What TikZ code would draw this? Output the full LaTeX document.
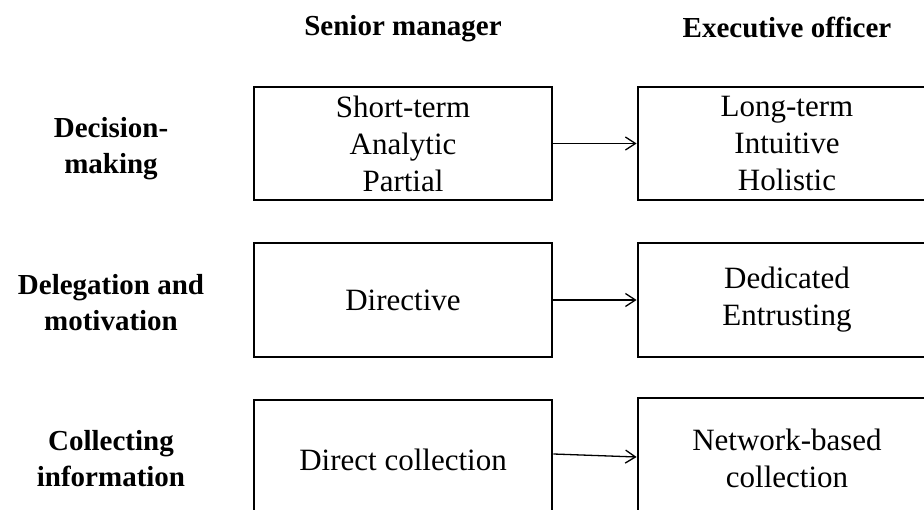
\documentclass[tikz,border=0pt]{standalone}
\usepackage{fontspec}
\setmainfont{Liberation Serif}
\usetikzlibrary{arrows.meta}
\begin{document}
\begin{tikzpicture}[x=1pt,y=-1pt,
  boxnode/.style={draw,line width=2.8pt,minimum width=298pt,minimum height=113pt,
    align=center,inner sep=0pt,font=\fontsize{31}{37}\selectfont},
  rowlabel/.style={align=center,font=\bfseries\fontsize{29}{36}\selectfont},
  colhead/.style={font=\bfseries\fontsize{29}{36}\selectfont},
  conn/.style={line width=1.3pt,-{Straight Barb[length=10pt,width=13pt,line width=1.3pt]}}]
\useasboundingbox (0,0) rectangle (924,510);
\clip (0,0) rectangle (924,510);
% column headers
\node[colhead] (h1) at (403,29) {Senior manager};
\node[colhead] (h2) at (787,27) {Executive officer};
% row labels
\node[rowlabel] (r1) at (111,149) {Decision-\\making};
\node[rowlabel] (r2) at (111,303) {Delegation and\\motivation};
\node[rowlabel] (r3) at (111,459) {Collecting\\information};
% boxes
\node[boxnode] (a1) at (403,143.5) {Short-term\\Analytic\\Partial};
\node[boxnode] (b1) at (787,143.5) {Long-term\\Intuitive\\Holistic};
\node[boxnode,minimum height=114pt] (a2) at (403,300) {Directive};
\node[boxnode,minimum height=114pt] (b2) at (787,300) {Dedicated\\Entrusting};
\node[boxnode,minimum height=120pt] (a3) at (403,460) {Direct collection};
\node[boxnode,minimum height=120pt] (b3) at (787,458) {Network-based\\collection};
% connectors
\draw[conn] (a1.east) -- (b1.west);
\draw[conn] (a2.east) -- (b2.west);
\draw[conn] ([yshift=6pt]a3.east) -- ([yshift=1pt]b3.west);
\end{tikzpicture}
\end{document}
